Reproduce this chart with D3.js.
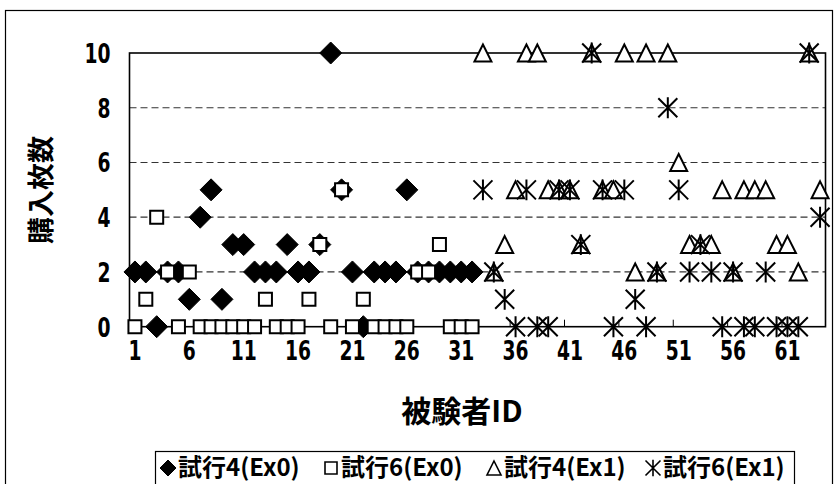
<!DOCTYPE html>
<html>
<head>
<meta charset="utf-8">
<script src="https://cdn.jsdelivr.net/npm/d3@7"></script>
<style>
  body { margin: 0; background: #fff; }
  svg { display: block; }
  .num { font-family: "DejaVu Sans", "Liberation Sans", sans-serif; font-weight: bold; }
  .jp { font-family: "Liberation Sans Narrow", "Noto Sans CJK JP", sans-serif; font-weight: bold; }
</style>
</head>
<body>
<svg id="chart" width="835" height="484"></svg>
<script>
// Subject IDs: 1–32 took part in Ex0, 33–64 in Ex1
const subjectIds = [1,2,3,4,5,6,7,8,9,10,11,12,13,14,15,16,17,18,19,20,21,22,23,24,25,26,27,28,29,30,31,32,
                    33,34,35,36,37,38,39,40,41,42,43,44,45,46,47,48,49,50,51,52,53,54,55,56,57,58,59,60,61,62,63,64];
const ex0Ids = subjectIds.slice(0, 32);
const ex1Ids = subjectIds.slice(32);

// Number of tickets bought (購入枚数) per subject
const trial4Ex0 = [2,2,0,2,2,1,4,5,1,3, 3,2,2,2,3,2,2,3,10,5, 2,0,2,2,2,5,2,2,2,2, 2,2];
const trial6Ex0 = [0,1,4,2,0,2,0,0,0,0, 0,0,1,0,0,0,1,3,0,5, 0,1,0,0,0,0,2,2,3,0, 0,0];
const trial4Ex1 = [10,2,3,5,10,10,5,5,5,3, 10,5,5,10,2,10,2,10,6,3, 3,3,5,2,5,5,5,3,3,2, 10,5];
const trial6Ex1 = [5,2,1,0,5,0,0,5,5,3, 10,5,0,5,1,0,2,8,5,2, 3,2,0,2,0,0,2,0,0,0, 10,4];

const xTickLabels = [1,6,11,16,21,26,31,36,41,46,51,56,61];
const yTicks = [0,2,4,6,8,10];
const gridValues = [2,4,6,8];
const seriesNames = ["試行4(Ex0)", "試行6(Ex0)", "試行4(Ex1)", "試行6(Ex1)"];

const svg = d3.select("#chart");

// outer chart frame
svg.append("rect").attr("x", 5.5).attr("y", 10.5).attr("width", 827).attr("height", 490)
  .attr("fill", "#fff").attr("stroke", "#000").attr("stroke-width", 1.2);

const plot = { left: 129.5, right: 825.5, top: 53, bottom: 326.7 };

const x = d3.scaleBand().domain(subjectIds).range([plot.left, plot.right]).padding(0);
const cx = id => x(id) + x.bandwidth() / 2;
const y = d3.scaleLinear().domain([0, 10]).range([plot.bottom, plot.top]);

// dashed gridlines
svg.append("g").selectAll("line").data(gridValues).join("line")
  .attr("x1", plot.left).attr("x2", plot.right)
  .attr("y1", d => y(d)).attr("y2", d => y(d))
  .attr("stroke", "#333").attr("stroke-width", 1.2).attr("stroke-dasharray", "7,4");

// plot area border
svg.append("rect").attr("x", plot.left).attr("y", plot.top)
  .attr("width", plot.right - plot.left).attr("height", plot.bottom - plot.top)
  .attr("fill", "none").attr("stroke", "#000").attr("stroke-width", 1.6);

// inner tick marks every five subjects
const tickBoundaries = xTickLabels.slice(1).map(id => x(id));
svg.append("g").selectAll("line").data(tickBoundaries).join("line")
  .attr("x1", d => d).attr("x2", d => d)
  .attr("y1", plot.bottom).attr("y2", plot.bottom - 7)
  .attr("stroke", "#000").attr("stroke-width", 1);

// condensed bold numerals for the axis labels
function styleTickText(sel) {
  sel.attr("class", "num").attr("font-size", 26).attr("fill", "#000")
    .attr("font-family", null).attr("transform", "scale(0.72,1)");
}

// x axis labels
const xAxis = d3.axisBottom(x).tickValues(xTickLabels).tickSize(0).tickPadding(0);
const gx = svg.append("g").attr("transform", `translate(0,${plot.bottom})`).call(xAxis);
gx.select(".domain").remove();
gx.selectAll("text").call(styleTickText).attr("dy", 0).attr("y", 33);

// y axis labels
const yAxis = d3.axisLeft(y).tickValues(yTicks).tickSize(0).tickPadding(0);
const gy = svg.append("g").attr("transform", `translate(${plot.left - 19},0)`).call(yAxis);
gy.select(".domain").remove();
gy.selectAll("text").call(styleTickText).attr("x", 0).attr("dy", "0.36em");

// axis titles
svg.append("text").attr("class", "jp").attr("x", 462).attr("y", 422)
  .attr("text-anchor", "middle").attr("font-size", 30).text("被験者ID");
svg.append("text").attr("class", "jp")
  .attr("transform", "translate(51,190) rotate(-90)")
  .attr("text-anchor", "middle").attr("font-size", 27).text("購入枚数");

// marker shapes
const diamondPath = s => `M0,${-s}L${s},0L0,${s}L${-s},0Z`;
const squarePath = s => `M${-s},${-s}H${s}V${s}H${-s}Z`;
const trianglePath = s => `M0,${-s}L${s},${s}L${-s},${s}Z`;
const asteriskPath = s => `M0,${-s * 1.1}V${s * 1.1}M${-s},${-s}L${s},${s}M${s},${-s}L${-s},${s}`;

function drawSeries(ids, values, pathFn, size, style) {
  const pts = ids.map((id, i) => ({ id, v: values[i] }));
  svg.append("g").selectAll("path").data(pts).join("path")
    .attr("transform", d => `translate(${cx(d.id)},${y(d.v)})`)
    .attr("d", pathFn(size))
    .attr("fill", style.fill).attr("stroke", style.stroke)
    .attr("stroke-width", style.width);
}

drawSeries(ex0Ids, trial4Ex0, diamondPath, 11, { fill: "#000", stroke: "#000", width: 1 });
drawSeries(ex0Ids, trial6Ex0, squarePath, 6.5, { fill: "#fff", stroke: "#000", width: 2 });
drawSeries(ex1Ids, trial4Ex1, trianglePath, 8.5, { fill: "#fff", stroke: "#000", width: 2 });
drawSeries(ex1Ids, trial6Ex1, asteriskPath, 9.5, { fill: "none", stroke: "#000", width: 2 });

// legend
const legend = svg.append("g");
legend.append("rect").attr("x", 155.5).attr("y", 451.5).attr("width", 639).attr("height", 40)
  .attr("fill", "#fff").attr("stroke", "#000").attr("stroke-width", 1.2);
const legendItems = [
  { name: seriesNames[0], x: 168, path: diamondPath(8), fill: "#000", w: 1 },
  { name: seriesNames[1], x: 331, path: squarePath(6), fill: "#fff", w: 1.6 },
  { name: seriesNames[2], x: 494, path: trianglePath(7), fill: "#fff", w: 1.6 },
  { name: seriesNames[3], x: 653, path: asteriskPath(7.5), fill: "none", w: 1.6 }
];
const li = legend.selectAll("g").data(legendItems).join("g")
  .attr("transform", d => `translate(${d.x},468)`);
li.append("path").attr("d", d => d.path).attr("fill", d => d.fill)
  .attr("stroke", "#000").attr("stroke-width", d => d.w);
li.append("text").attr("class", "jp").attr("x", 10).attr("y", 8)
  .attr("font-size", 24).text(d => d.name);
</script>
</body>
</html>
